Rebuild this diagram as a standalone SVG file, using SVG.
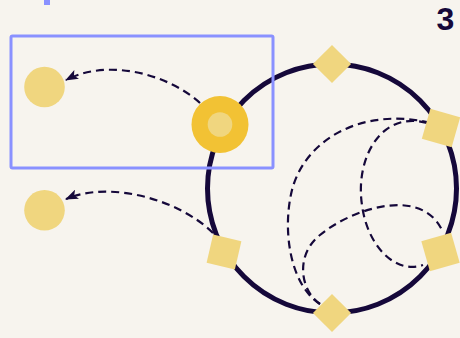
<svg xmlns="http://www.w3.org/2000/svg" width="460" height="338" viewBox="0 0 460 338">
<style>
.bg{fill:#f7f4ee}
.ring{fill:none;stroke:#15083a;stroke-width:5}
.dash{fill:none;stroke:#15083a;stroke-width:2.2;stroke-dasharray:8 5}
.light{fill:#f0d67f}
.gold{fill:#f2c234}
.frame{fill:none;stroke:#8a91ff;stroke-width:3}
.num{font-family:"Liberation Sans",Arial,sans-serif;font-weight:bold;font-size:32px;fill:#15083a}
</style>
<defs>
<marker id="ah" viewBox="0 0 13 10" refX="12" refY="5" markerWidth="13" markerHeight="10" markerUnits="userSpaceOnUse" orient="auto">
<path d="M0,0 L13,5 L0,10 L3,5 z" fill="#15083a"/>
</marker>
</defs>
<rect class="bg" x="0" y="0" width="460" height="338"/>
<rect x="44" y="0" width="6" height="5" fill="#8a91ff"/>
<text class="num" x="445.5" y="29.5" text-anchor="middle">3</text>
<circle class="ring" cx="332" cy="188.5" r="124.5"/>
<g id="connectors">
<path class="dash" d="M200,103 C168,74 108,58 66,80" marker-end="url(#ah)"/>
<path class="dash" d="M213,233 C180,200 110,180 66,199" marker-end="url(#ah)"/>
<path class="dash" d="M320,304 C290,285 282,230 292,190 C305,140 360,108 427,122"/>
<path class="dash" d="M427,123 C380,110 355,160 362,205 C367,245 395,275 423,265"/>
<path class="dash" d="M320,304 C300,290 295,255 320,235 C350,210 420,185 442,230"/>
</g>
<rect class="frame" id="selection" x="11" y="36" width="262" height="132" rx="1.5"/>
<g id="source-node">
<circle class="gold" cx="220" cy="124.5" r="28.5"/>
<circle class="light" cx="220" cy="124.5" r="12.3"/>
</g>
<g id="target-1"><circle class="light" cx="44.5" cy="87" r="20.3"/></g>
<g id="target-2"><circle class="light" cx="44.5" cy="210.3" r="20.3"/></g>
<g id="top-diamond"><rect class="light" x="-13.5" y="-13.5" width="27" height="27" transform="translate(332,64) rotate(45)"/></g>
<g id="bottom-diamond"><rect class="light" x="-13.5" y="-13.5" width="27" height="27" transform="translate(332,313) rotate(45)"/></g>
<g id="right-upper"><rect class="light" x="-15.5" y="-15.5" width="31" height="31" transform="translate(441,128) rotate(16)"/></g>
<g id="right-lower"><rect class="light" x="-15.5" y="-15.5" width="31" height="31" transform="translate(440.5,252) rotate(-16)"/></g>
<g id="left-lower"><rect class="light" x="-14.5" y="-14.5" width="29" height="29" transform="translate(224,252) rotate(13)"/></g>
</svg>
